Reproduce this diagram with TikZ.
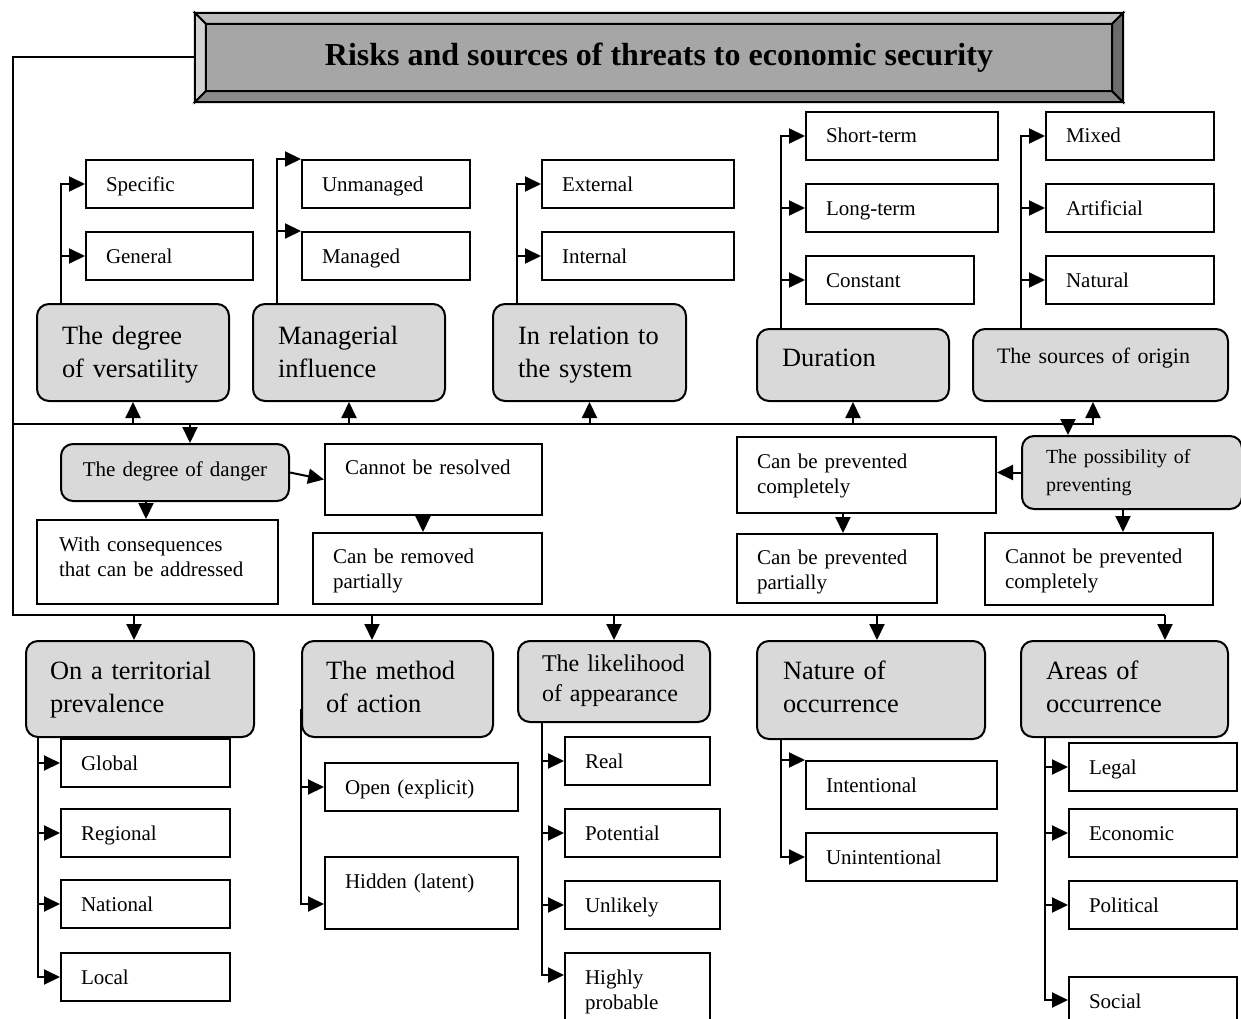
\documentclass[tikz,border=0pt]{standalone}
\usepackage{fontspec}
\setmainfont{Liberation Serif}
\usetikzlibrary{arrows.meta}

\definecolor{catgray}{HTML}{D9D9D9}
\definecolor{headface}{HTML}{A6A6A6}
\definecolor{beveltop}{HTML}{BDBDBD}
\definecolor{bevelleft}{HTML}{D2D2D2}
\definecolor{bevelbottom}{HTML}{8A8A8A}
\definecolor{bevelright}{HTML}{6C6C6C}

\begin{document}
\begin{tikzpicture}[
            x=1pt, y=-1pt,
            conn/.style={line width=2pt},
            arr/.style={conn, -{Triangle[length=16pt,width=15pt]}},
            leaf/.style={
            draw, line width=2pt,
            anchor=north west,
            align=left,
            inner xsep=20pt, inner ysep=0pt,
            text width=128pt,
            text height=31pt, text depth=17pt,
            font=\fontsize{21}{25}\selectfont
            },
            cat/.style={
            leaf, fill=catgray,
            rounded corners=12pt,
            inner xsep=25pt,
            font=\fontsize{26.4}{33}\selectfont
            },
            headbox/.style={
            fill=headface,
            minimum width=928pt, minimum height=89pt,
            inner sep=0pt,
            font=\bfseries\fontsize{32}{38}\selectfont
            }
            ]
            \useasboundingbox (0,0) rectangle (1241,1019);

            % title with bevel
            \node[headbox] (head) at (659,57.5) {Risks and sources of threats to economic security};
            \coordinate (hin-nw) at ([shift={(11,11)}]head.north west);
            \coordinate (hin-ne) at ([shift={(-11,11)}]head.north east);
            \coordinate (hin-sw) at ([shift={(11,-11)}]head.south west);
            \coordinate (hin-se) at ([shift={(-11,-11)}]head.south east);
            \filldraw[conn, fill=beveltop] (head.north west) -- (head.north east) -- (hin-ne) -- (hin-nw) -- cycle;
            \filldraw[conn, fill=bevelleft] (head.north west) -- (hin-nw) -- (hin-sw) -- (head.south west) -- cycle;
            \filldraw[conn, fill=bevelbottom] (head.south west) -- (hin-sw) -- (hin-se) -- (head.south east) -- cycle;
            \filldraw[conn, fill=bevelright] (head.north east) -- (head.south east) -- (hin-se) -- (hin-ne) -- cycle;

            % upper groups
            \node[cat, text width=142pt, text height=40pt, text depth=57pt] (vers) at (36,303) {The degree\\of versatility};
            \node[cat, text width=142pt, text height=40pt, text depth=57pt] (infl) at (252,303) {Managerial\\influence};
            \node[cat, text width=143pt, text height=40pt, text depth=57pt] (rel) at (492,303) {In relation to\\the system};
            \node[cat, text width=142pt, text height=37pt, text depth=35pt] (dur) at (756,328) {Duration};
            \node[cat, inner xsep=24pt, text width=207pt, text height=34pt, text depth=38pt,
                  font=\fontsize{22}{26}\selectfont] (orig) at (972,328) {The sources of origin};

            \node[leaf, text width=127pt] (spec) at (85,159) {Specific};
            \node[leaf, text width=127pt] (gen) at (85,231) {General};
            \node[leaf] (unmng) at (301,159) {Unmanaged};
            \node[leaf] (mng) at (301,231) {Managed};
            \node[leaf, text width=152pt] (ext) at (541,159) {External};
            \node[leaf, text width=152pt] (intr) at (541,231) {Internal};
            \node[leaf, text width=152pt] (short) at (805,111) {Short-term};
            \node[leaf, text width=152pt] (long) at (805,183) {Long-term};
            \node[leaf] (const) at (805,255) {Constant};
            \node[leaf] (mixed) at (1045,111) {Mixed};
            \node[leaf] (artif) at (1045,183) {Artificial};
            \node[leaf] (natur) at (1045,255) {Natural};

            % middle part
            \node[cat, align=center, inner xsep=10pt, text width=208pt, text height=32pt, text depth=25pt,
                  font=\fontsize{21}{25}\selectfont] (dang) at (60,443) {The degree of danger};
            \node[leaf, text width=177pt, text height=30pt, text depth=41pt] (cres) at (324,443) {Cannot be resolved};
            \node[leaf, inner xsep=22pt, text width=197pt, text depth=53pt] (cons) at (36,519) {With consequences\\that can be addressed};
            \node[leaf, text width=189pt, text height=30pt, text depth=41pt] (rem) at (312,532) {Can be removed\\partially};
            \node[cat, inner xsep=24pt, text width=172pt, text height=27pt, text depth=46pt,
                  font=\fontsize{20}{28}\selectfont] (poss) at (1021,435) {The possibility of\\preventing};
            \node[leaf, text width=219pt, text depth=45pt] (pcomp) at (736,436) {Can be prevented\\completely};
            \node[leaf, text width=160pt, text height=30pt, text depth=39pt] (ppart) at (736,533) {Can be prevented\\partially};
            \node[leaf, text width=188pt, text height=30pt, text depth=42pt] (cprev) at (984,532) {Cannot be prevented\\completely};

            % lower groups
            \node[cat, inner xsep=24pt, text width=180pt, text height=38pt, text depth=58pt] (terr) at (25,640) {On a territorial\\prevalence};
            \node[cat, inner xsep=24pt, text width=143pt, text height=38pt, text depth=58pt] (meth) at (301,640) {The method\\of action};
            \node[cat, inner xsep=24pt, text width=144pt, text height=30pt, text depth=51pt,
                  font=\fontsize{24}{30}\selectfont] (like) at (517,640) {The likelihood\\of appearance};
            \node[cat, inner xsep=26pt, text width=176pt, text height=38pt, text depth=60pt] (nat) at (756,640) {Nature of\\occurrence};
            \node[cat, text width=157pt, text height=38pt, text depth=58pt] (area) at (1020,640) {Areas of\\occurrence};

            \node[leaf, text width=129pt] (glob) at (60,738) {Global};
            \node[leaf, text width=129pt] (reg) at (60,808) {Regional};
            \node[leaf, text width=129pt] (natl) at (60,879) {National};
            \node[leaf, text width=129pt] (loc) at (60,952) {Local};
            \node[leaf, text width=153pt] (open) at (324,762) {Open (explicit)};
            \node[leaf, text width=153pt, text depth=41pt] (hid) at (324,856) {Hidden (latent)};
            \node[leaf, text width=105pt] (real) at (564,736) {Real};
            \node[leaf, text width=115pt] (pot) at (564,808) {Potential};
            \node[leaf, text width=115pt] (unl) at (564,880) {Unlikely};
            \node[leaf, text width=105pt, text depth=49pt] (high) at (564,952) {Highly\\probable};
            \node[leaf, text width=151pt] (intl) at (805,760) {Intentional};
            \node[leaf, text width=151pt] (unint) at (805,832) {Unintentional};
            \node[leaf] (legal) at (1068,742) {Legal};
            \node[leaf] (econ) at (1068,808) {Economic};
            \node[leaf] (polit) at (1068,880) {Political};
            \node[leaf, text depth=29pt] (soc) at (1068,976) {Social};

            % buses
            \coordinate (bustop) at (13,424);
            \coordinate (bustopend) at (1093,424);
            \coordinate (busbot) at (13,615);
            \coordinate (busbotend) at (1165,615);
            \draw[conn] (head.west) -| (busbot) -- (busbotend);
            \draw[arr] (bustop) -- (bustopend) -- (bustopend |- orig.south);
            \draw[arr] (busbotend) -- (busbotend |- area.north);

            \foreach \Cat in {vers,infl,rel,dur}
            \draw[arr] (\Cat.south |- bustop) -- (\Cat.south);

            \coordinate (dang-in) at ([xshift=130pt]dang.north west);
            \coordinate (poss-in) at ([xshift=47pt]poss.north west);
            \draw[arr] (dang-in |- bustop) -- (dang-in);
            \draw[arr] (poss-in |- bustop) -- (poss-in);

            \coordinate (terr-in) at ([xshift=109pt]terr.north west);
            \coordinate (meth-in) at ([xshift=71pt]meth.north west);
            \coordinate (nat-in) at ([xshift=121pt]nat.north west);
            \draw[arr] (terr-in |- busbot) -- (terr-in);
            \draw[arr] (meth-in |- busbot) -- (meth-in);
            \draw[arr] (like.north |- busbot) -- (like.north);
            \draw[arr] (nat-in |- busbot) -- (nat-in);

            % middle arrows
            \draw[arr] (dang.east) -- (cres.west);
            \draw[arr] ([xshift=86pt]dang.south west) -- ([xshift=110pt]cons.north west);
            \draw[arr] ([xshift=99pt]cres.south west) -- ([xshift=111pt]rem.north west);
            \draw[arr] (poss.west) -- (poss.west -| pcomp.east);
            \draw[arr] ([xshift=107pt]pcomp.south west) -- ([xshift=107pt]ppart.north west);
            \draw[arr] ([xshift=102pt]poss.south west) -- ([xshift=139pt]cprev.north west);

            % branches, upper
            \draw[arr] ([xshift=25pt]vers.north west) |- (spec.west);
            \draw[arr] ([xshift=25pt]vers.north west) |- (gen.west);
            \draw[arr] ([xshift=25pt]infl.north west) |- (unmng.north west);
            \draw[arr] ([xshift=25pt]infl.north west) |- (mng.north west);
            \draw[arr] ([xshift=25pt]rel.north west) |- (ext.west);
            \draw[arr] ([xshift=25pt]rel.north west) |- (intr.west);
            \foreach \Leaf in {short,long,const}
            \draw[arr] ([xshift=25pt]dur.north west) |- (\Leaf.west);
            \foreach \Leaf in {mixed,artif,natur}
            \draw[arr] ([xshift=49pt]orig.north west) |- (\Leaf.west);

            % branches, lower
            \foreach \Leaf in {glob,reg,natl,loc}
            \draw[arr] ([xshift=13pt]terr.south west) |- (\Leaf.west);
            \draw[arr] ([yshift=-20pt]meth.west) |- (open.west);
            \draw[arr] ([yshift=-20pt]meth.west) |- ([yshift=-11pt]hid.west);
            \foreach \Leaf in {real,pot,unl}
            \draw[arr] ([xshift=25pt]like.south west) |- (\Leaf.west);
            \draw[arr] ([xshift=25pt]like.south west) |- ([yshift=-23pt]high.north west);
            \draw[arr] ([xshift=25pt]nat.south west) |- (intl.north west);
            \draw[arr] ([xshift=25pt]nat.south west) |- (unint.west);
            \foreach \Leaf in {legal,econ,polit}
            \draw[arr] ([xshift=25pt]area.south west) |- (\Leaf.west);
            \draw[arr] ([xshift=25pt]area.south west) |- ([yshift=-24pt]soc.north west);
        \end{tikzpicture}
\end{document}
